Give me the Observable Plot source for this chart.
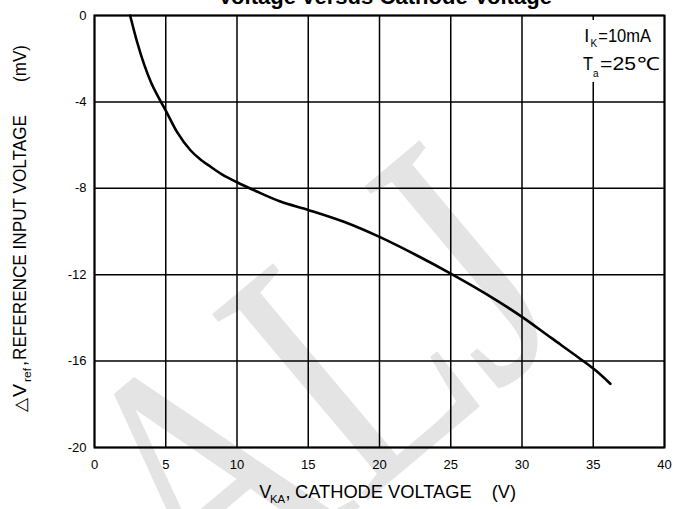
<!DOCTYPE html>
<html>
<head>
<meta charset="utf-8">
<script src="https://cdn.jsdelivr.net/npm/d3@7"></script>
<script src="https://cdn.jsdelivr.net/npm/@observablehq/plot@0.6"></script>
<style>
  html, body { margin: 0; padding: 0; background: #fff; overflow: hidden; }
  #chart svg { display: block; }
</style>
</head>
<body>
<div id="chart"></div>
<script>
// ---- data ----
const vka   = [2.5, 3.0, 3.5, 4.0, 4.5, 5.0, 5.8, 6.75, 7.5, 8.15, 9.0, 10, 11.4, 13.0, 15, 17.5, 20, 22.6, 25, 27.5, 30, 32.1, 34.1, 35.2, 36.2];
const dvref = [0, -1.25, -2.3, -3.15, -3.8, -4.4, -5.4, -6.25, -6.7, -7.0, -7.38, -7.72, -8.15, -8.6, -9.0, -9.55, -10.25, -11.1, -11.95, -12.9, -13.95, -14.95, -15.9, -16.45, -17.05];
const xTicks = [0, 5, 10, 15, 20, 25, 30, 35, 40];
const yTicks = [0, -4, -8, -12, -16, -20];
const titleText = "Voltage versus Cathode Voltage";
const conditions = [["I", "K", "=10mA"], ["T", "a", "=25", "℃"]];

const FONT = "'Liberation Sans', Arial, sans-serif";
const curve = vka.map((x, i) => ({x, y: dvref[i]}));

const plot = Plot.plot({
  width: 673,
  height: 509,
  marginLeft: 94,
  marginRight: 9,
  marginTop: 15,
  marginBottom: 62,
  style: {fontFamily: FONT, fontSize: "13px", color: "#000", background: "transparent"},
  x: {domain: [0, 40]},
  y: {domain: [-20, 0]},
  marks: [
    Plot.ruleX(xTicks, {stroke: "#000", strokeWidth: 1.5}),
    Plot.ruleY(yTicks, {stroke: "#000", strokeWidth: 1.5}),
    Plot.frame({stroke: "#000", strokeWidth: 2}),
    Plot.axisX({ticks: xTicks, tickSize: 0, tickPadding: 12, label: null, tickFormat: d => String(d)}),
    Plot.axisY({ticks: yTicks, tickSize: 0, tickPadding: 8, label: null, tickFormat: d => String(d)}),
    Plot.line(curve, {x: "x", y: "y", curve: "monotone-x", stroke: "#000", strokeWidth: 2.6})
  ]
});
document.getElementById("chart").appendChild(plot);

const svg = d3.select(plot);

function txt(g, s, x, y, size, o = {}) {
  const t = g.append("text")
    .attr("x", x).attr("y", y)
    .attr("font-size", size)
    .attr("font-family", FONT)
    .attr("text-anchor", "start")
    .attr("fill", "#000")
    .text(s);
  if (o.len) t.attr("textLength", o.len).attr("lengthAdjust", "spacingAndGlyphs");
  if (o.weight) t.attr("font-weight", o.weight);
  return t;
}

// watermark behind everything
const wm = svg.insert("g", ":first-child");
wm.append("text")
  .attr("transform", "translate(392,480) rotate(-40) scale(1,1.3)")
  .attr("text-anchor", "middle")
  .attr("font-family", "'Liberation Serif', 'DejaVu Serif', serif")
  .attr("font-size", 285)
  .attr("fill", "#e4e4e4")
  .text("ALJ");

// title (partly cut off at the top)
txt(svg, titleText, 218, 3.5, 22, {len: 334, weight: "bold"});

// x axis label
const xl = svg.append("g");
txt(xl, "V", 259.3, 498.3, 18, {len: 12});
txt(xl, "KA", 270, 503.3, 10, {len: 15});
txt(xl, ",", 285.5, 498.3, 18);
txt(xl, "CATHODE VOLTAGE", 295, 498.3, 18, {len: 176.7});
txt(xl, "(V)", 491.7, 498.3, 18, {len: 24.3});

// y axis label (rotated)
const yl = svg.append("g").attr("transform", "translate(25.5,0) rotate(-90)");
txt(yl, "△", -412, 0, 17, {len: 14});
txt(yl, "V", -397, 0, 18, {len: 13});
txt(yl, "ref", -382, 5.5, 10, {len: 14});
txt(yl, ",", -366, 0, 18);
txt(yl, "REFERENCE INPUT VOLTAGE", -360, 0, 18, {len: 245});
txt(yl, "(mV)", -82, 0, 18, {len: 37});

// conditions box (top right)
const an = svg.append("g");
an.append("rect").attr("x", 578).attr("y", 20).attr("width", 83).attr("height", 62).attr("fill", "#fff");
txt(an, conditions[0][0], 584.3, 41.7, 18);
txt(an, conditions[0][1], 590.5, 46.7, 10);
txt(an, conditions[0][2], 598.3, 41.7, 18, {len: 52.7});
txt(an, conditions[1][0], 583, 70, 18, {len: 10});
txt(an, conditions[1][1], 593, 76.7, 10);
txt(an, conditions[1][2], 600, 70, 18, {len: 36});
txt(an, conditions[1][3], 637, 70, 18, {len: 23});
</script>
</body>
</html>
